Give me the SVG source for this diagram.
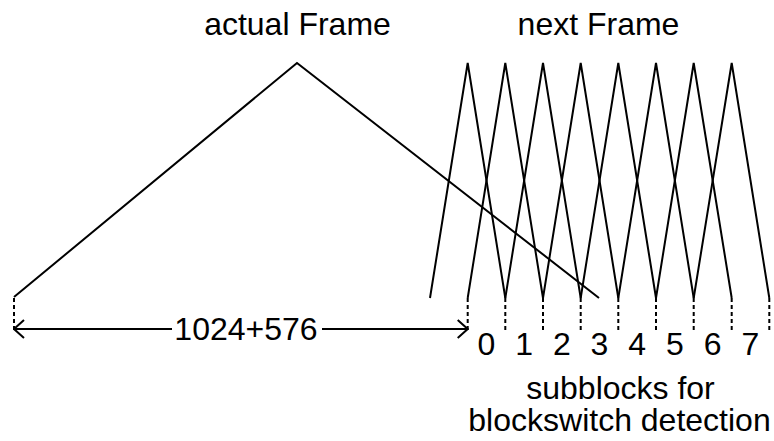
<svg xmlns="http://www.w3.org/2000/svg" width="774" height="441" viewBox="0 0 774 441">
<style>
.l{fill:none;stroke:#000;stroke-width:2;stroke-linejoin:miter}
.d{fill:none;stroke:#000;stroke-width:2;stroke-dasharray:4,3}
text{font-family:"Liberation Sans",Arial,sans-serif;font-size:32px;fill:#000}
</style>
<defs>
<marker id="ah" markerWidth="12" markerHeight="20" refX="11" refY="10" orient="auto" markerUnits="userSpaceOnUse">
<path d="M1,1 L11,10 L1,19" fill="none" stroke="#000" stroke-width="2"/>
</marker>
<marker id="at" markerWidth="12" markerHeight="20" refX="1" refY="10" orient="auto" markerUnits="userSpaceOnUse">
<path d="M11,1 L1,10 L11,19" fill="none" stroke="#000" stroke-width="2"/>
</marker>
</defs>
<g id="actual-frame">
<polyline class="l" points="14,297 297,63 599,298"/>
<text x="297.5" y="35" text-anchor="middle">actual Frame</text>
</g>
<g id="next-frame">
<polyline class="l" points="430,298 467.7,63 505.3,298"/>
<polyline class="l" points="467.7,298 505.3,63 543,298"/>
<polyline class="l" points="505.3,298 543,63 580.7,298"/>
<polyline class="l" points="543,298 580.7,63 618.3,298"/>
<polyline class="l" points="580.7,298 618.3,63 656,298"/>
<polyline class="l" points="618.3,298 656,63 693.7,298"/>
<polyline class="l" points="656,298 693.7,63 731.7,298"/>
<polyline class="l" points="693.7,298 731.7,63 769.3,298"/>
<text x="598.5" y="35" text-anchor="middle">next Frame</text>
</g>
<g id="subblocks">
<g class="d">
<line x1="14" y1="298" x2="14" y2="333"/>
<line x1="467.7" y1="298" x2="467.7" y2="333"/>
<line x1="505.3" y1="298" x2="505.3" y2="333"/>
<line x1="543" y1="298" x2="543" y2="333"/>
<line x1="580.7" y1="298" x2="580.7" y2="333"/>
<line x1="618.3" y1="298" x2="618.3" y2="333"/>
<line x1="656" y1="298" x2="656" y2="333"/>
<line x1="693.7" y1="298" x2="693.7" y2="333"/>
<line x1="731.7" y1="298" x2="731.7" y2="333"/>
<line x1="769.3" y1="298" x2="769.3" y2="333"/>
</g>
<g text-anchor="middle">
<text x="486.5" y="355">0</text>
<text x="524.2" y="355">1</text>
<text x="561.9" y="355">2</text>
<text x="599.5" y="355">3</text>
<text x="637.2" y="355">4</text>
<text x="674.9" y="355">5</text>
<text x="712.7" y="355">6</text>
<text x="750.5" y="355">7</text>
<text x="620.5" y="399">subblocks for</text>
<text x="619.5" y="431">blockswitch detection</text>
</g>
</g>
<g id="connectors">
<line class="l" x1="14" y1="329" x2="172" y2="329" marker-start="url(#at)"/>
<line class="l" x1="322" y1="329" x2="467.7" y2="329" marker-end="url(#ah)"/>
<text x="246" y="340" text-anchor="middle">1024+576</text>
</g>
</svg>
